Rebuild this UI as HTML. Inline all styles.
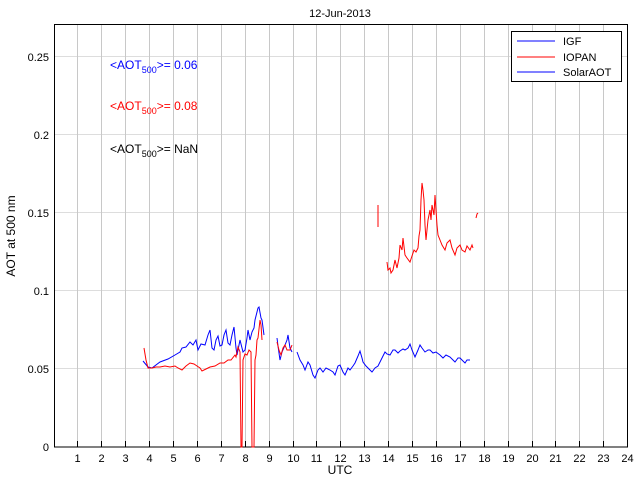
<!DOCTYPE html><html><head><style>body{margin:0;background:#fff}svg{display:block;font-family:"Liberation Sans",sans-serif}</style></head><body>
<svg width="640" height="480" viewBox="0 0 640 480">
<rect width="640" height="480" fill="#fff"/>
<g stroke="#ddd" stroke-width="1">
<line x1="54" y1="56.5" x2="628" y2="56.5"/><line x1="54" y1="134.5" x2="628" y2="134.5"/><line x1="54" y1="212.5" x2="628" y2="212.5"/><line x1="54" y1="290.5" x2="628" y2="290.5"/><line x1="54" y1="368.5" x2="628" y2="368.5"/>
</g>
<g stroke="#c8c8c8" stroke-width="1" id="vg"></g>
<g id="ticks" stroke="#000"></g>
<rect x="54.5" y="24.5" width="573" height="422.5" fill="none" stroke="#000"/>
<g font-size="11" text-anchor="end">
<text x="49" y="451">0</text><text x="49" y="373">0.05</text><text x="49" y="295">0.1</text><text x="49" y="217">0.15</text><text x="49" y="139">0.2</text><text x="49" y="61">0.25</text>
</g>
<g font-size="11" text-anchor="middle" id="xl"></g>
<text x="340" y="474" font-size="12" text-anchor="middle">UTC</text>
<text x="340" y="17" font-size="11" text-anchor="middle">12-Jun-2013</text>
<text transform="translate(15,236) rotate(-90)" font-size="12" text-anchor="middle">AOT at 500 nm</text>
<text x="110" y="69" font-size="12" fill="#00f">&lt;AOT<tspan font-size="9" dy="4">500</tspan><tspan dy="-4">&gt;= 0.06</tspan></text>
<text x="110" y="110" font-size="12" fill="#f00">&lt;AOT<tspan font-size="9" dy="4">500</tspan><tspan dy="-4">&gt;= 0.08</tspan></text>
<text x="110" y="153" font-size="12" fill="#000">&lt;AOT<tspan font-size="9" dy="4">500</tspan><tspan dy="-4">&gt;=  NaN</tspan></text>
<g fill="none" stroke-width="1">
<polyline stroke="#00f" points="143,361 148,367 152,368 160,362 168,359 175,355 180,352 182,348 186,347 190,342 193,345 196,340 198,350 201,344 205,345 208,335 210,330 212,348 214,350 216,340 218,336 220,346 222,345 224,335 226,330 228,343 230,345 232,335 234,327 236,348 237,355 239,345 240,340 243,352 245,350 247,338 248,330 250,340 252,332 254,328 255,320 257,312 258,308 259,307 261,318 262,320 264,335"/>
<polyline stroke="#f00" points="144,348 146,360 148,368 152,368 156,367 160,367 165,366 170,367 175,366 178,368 182,370 186,366 190,363 194,364 197,366 200,368 202,371 206,369 210,367 215,366 220,363 224,363 228,360 231,360 235,355 236,357 238,347 240,352 241,447 242,447 243,360 245,354 247,355 249,350 251,352 252,447 254,447 255,360 256,355 257,340 258,338 260,320 261,325 262,340"/>
<polyline stroke="#00f" points="277,338 278,346 280,360 282,352 285,345 287,340 288,335 290,348 292,352"/>
<polyline stroke="#f00" points="277,342 279,350 281,355 283,348 285,345 287,350 290,350 292,345"/>
<polyline stroke="#00f" points="297,352 300,360 303,365 305,370 308,362 310,365 313,375 315,378 318,370 320,368 323,372 326,368 330,370 333,372 335,375 338,366 340,365 343,372 345,375 348,368 350,370 353,366 355,363 358,356 360,351 362,358 363,362 366,366 370,370 372,372 375,368 378,366 381,360 385,352 387,354 390,355 393,350 395,350 398,353 400,351 403,349 405,350 408,348 410,344 412,350 415,357 418,350 420,345 422,348 425,352 428,350 430,350 433,353 436,352 440,355 443,358 446,355 450,357 453,360 455,362 458,358 460,358 463,361 465,363 467,360 470,360"/>
<polyline stroke="#f00" points="378,205 378,227"/>
<polyline stroke="#f00" points="387,262 388,270 390,268 391,273 393,270 395,260 397,268 399,258 400,245 402,250 403,238 405,255 407,258 410,262 412,256 414,250 416,252 418,248 419,236 420,230 421,200 422,183 423,190 424,200 425,225 426,240 427,230 428,220 429,215 430,210 431,220 432,205 434,215 435,195 436,210 437,225 438,235 440,240 442,245 445,250 447,243 450,240 452,248 455,255 457,248 460,245 462,250 465,252 467,246 470,250 472,245 473,248"/>
<polyline stroke="#f00" points="476,218 477,214 478,213"/>
</g>
<rect x="511.5" y="31.5" width="110" height="50" fill="#fff" stroke="#000"/>
<g font-size="11">
<line x1="517" y1="41" x2="555" y2="41" stroke="#00f"/><text x="563" y="45">IGF</text>
<line x1="517" y1="57" x2="555" y2="57" stroke="#f00"/><text x="563" y="61">IOPAN</text>
<line x1="517" y1="72" x2="555" y2="72" stroke="#00f"/><text x="563" y="76">SolarAOT</text>
</g>
<script>
var vg=document.getElementById('vg'),tk=document.getElementById('ticks'),xl=document.getElementById('xl'),ns='http://www.w3.org/2000/svg';
for(var h=1;h<=24;h++){var x=Math.round(53.5+h*23.9)+0.5;
if(h<24){var l=document.createElementNS(ns,'line');l.setAttribute('x1',x);l.setAttribute('x2',x);l.setAttribute('y1',25);l.setAttribute('y2',447);vg.appendChild(l);}
var t=document.createElementNS(ns,'line');t.setAttribute('x1',x);t.setAttribute('x2',x);t.setAttribute('y1',441);t.setAttribute('y2',447);tk.appendChild(t);
var s=document.createElementNS(ns,'text');s.setAttribute('x',x);s.setAttribute('y',462);s.textContent=h;xl.appendChild(s);}
</script>
</svg></body></html>
